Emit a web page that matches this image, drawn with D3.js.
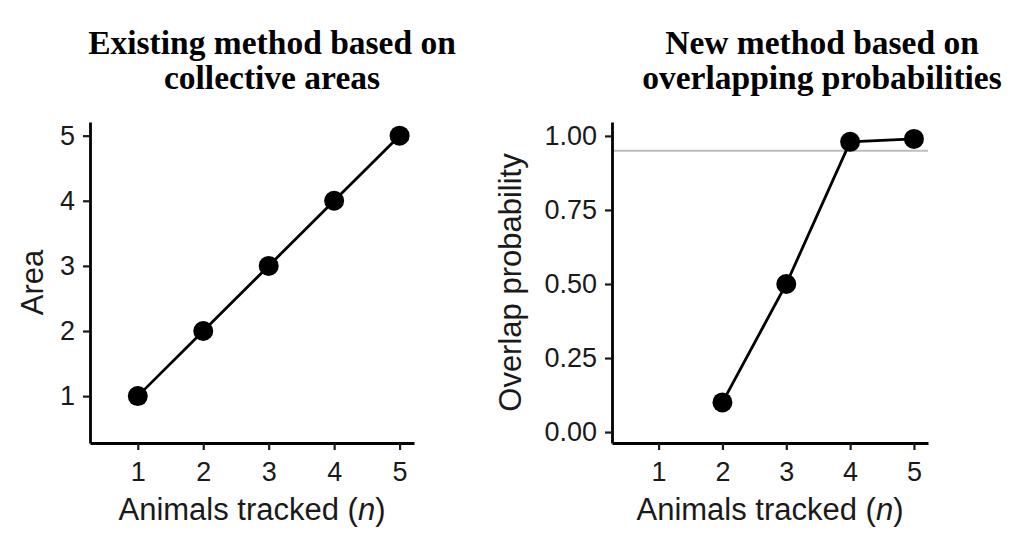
<!DOCTYPE html>
<html>
<head>
<meta charset="utf-8">
<script src="https://cdn.jsdelivr.net/npm/d3@7"></script>
<style>
  body { margin: 0; background: #fff; }
  .title { font-family: "Liberation Serif", "Times New Roman", serif; font-weight: bold; font-size: 33.5px; }
  .tick text { font-family: "Liberation Sans", Arial, sans-serif; font-size: 27px; fill: #1a1a1a; }
  .axisTitle { font-family: "Liberation Sans", Arial, sans-serif; font-size: 31px; fill: #1a1a1a; }
</style>
</head>
<body>
<div id="chart"></div>
<script>
// data
var animals = [1, 2, 3, 4, 5];
var areaValues = [1, 2, 3, 4, 5];
var overlapN = [2, 3, 4, 5];
var overlapValues = [0.10, 0.50, 0.98, 0.99];
var areaTicks = [1, 2, 3, 4, 5];
var probTicks = [0, 0.25, 0.5, 0.75, 1];
var threshold = 0.95;

var svgWidth = 1024, svgHeight = 541;

var svg = d3.select("#chart")
  .append("svg")
  .attr("width", svgWidth)
  .attr("height", svgHeight);

// one panel = axes + line + points
function drawPanel(opts) {
  var x = d3.scaleLinear().domain([0.27, 5.22]).range([opts.left, opts.right]);
  var y = d3.scaleLinear().domain(opts.yDomain).range([opts.bottom, opts.top]);

  var g = svg.append("g");

  // reference line (right panel only)
  if (opts.hline != null) {
    g.append("line")
      .attr("x1", opts.left).attr("x2", opts.right)
      .attr("y1", y(opts.hline)).attr("y2", y(opts.hline))
      .attr("stroke", "#bdbdbd")
      .attr("stroke-width", 2);
  }

  var xAxis = g.append("g")
    .attr("transform", `translate(0, ${opts.bottom})`)
    .call(d3.axisBottom(x).tickValues(animals).tickFormat(d3.format("d")).tickSize(7).tickPadding(12).tickSizeOuter(0));
  var yAxis = g.append("g")
    .attr("transform", `translate(${opts.left}, 0)`)
    .call(d3.axisLeft(y).tickValues(opts.yTicks).tickFormat(opts.yFormat).tickSize(7).tickPadding(8).tickSizeOuter(0));

  [xAxis, yAxis].forEach(function(a) {
    a.select(".domain").attr("stroke", "#000").attr("stroke-width", 2.8);
    a.selectAll(".tick line").attr("stroke", "#1a1a1a").attr("stroke-width", 2.2);
  });

  var line = d3.line().x(d => x(d[0])).y(d => y(d[1]));
  var pts = opts.xs.map((v, i) => [v, opts.ys[i]]);

  g.append("path")
    .datum(pts)
    .attr("d", line)
    .attr("fill", "none")
    .attr("stroke", "#000")
    .attr("stroke-width", 2.8);

  g.selectAll("circle")
    .data(pts)
    .enter()
    .append("circle")
    .attr("cx", d => x(d[0]))
    .attr("cy", d => y(d[1]))
    .attr("r", 10)
    .attr("fill", "#000");

  // axis labels
  var xt = g.append("text")
    .attr("class", "axisTitle")
    .attr("x", (opts.left + opts.right) / 2)
    .attr("y", 520)
    .attr("text-anchor", "middle");
  xt.append("tspan").text("Animals tracked (");
  xt.append("tspan").attr("font-style", "italic").text("n");
  xt.append("tspan").text(")");

  g.append("text")
    .attr("class", "axisTitle")
    .attr("transform", `translate(${opts.yTitleX}, ${(opts.top + opts.bottom) / 2}) rotate(-90)`)
    .attr("text-anchor", "middle")
    .text(opts.yTitle);

  // panel title, two lines
  opts.title.forEach(function(t, i) {
    svg.append("text")
      .attr("class", "title")
      .attr("x", opts.titleX)
      .attr("y", 54 + i * 35)
      .attr("text-anchor", "middle")
      .text(t);
  });
}

drawPanel({
  left: 90, right: 414, top: 122, bottom: 443,
  yDomain: [0.28, 5.21],
  yTicks: areaTicks,
  yFormat: d3.format("d"),
  xs: animals, ys: areaValues,
  yTitle: "Area", yTitleX: 43,
  title: ["Existing method based on", "collective areas"], titleX: 272
});

drawPanel({
  left: 612, right: 928, top: 122, bottom: 443,
  yDomain: [-0.037, 1.047],
  yTicks: probTicks,
  yFormat: d3.format(".2f"),
  xs: overlapN, ys: overlapValues,
  hline: threshold,
  yTitle: "Overlap probability", yTitleX: 521,
  title: ["New method based on", "overlapping probabilities"], titleX: 822
});
</script>
</body>
</html>
